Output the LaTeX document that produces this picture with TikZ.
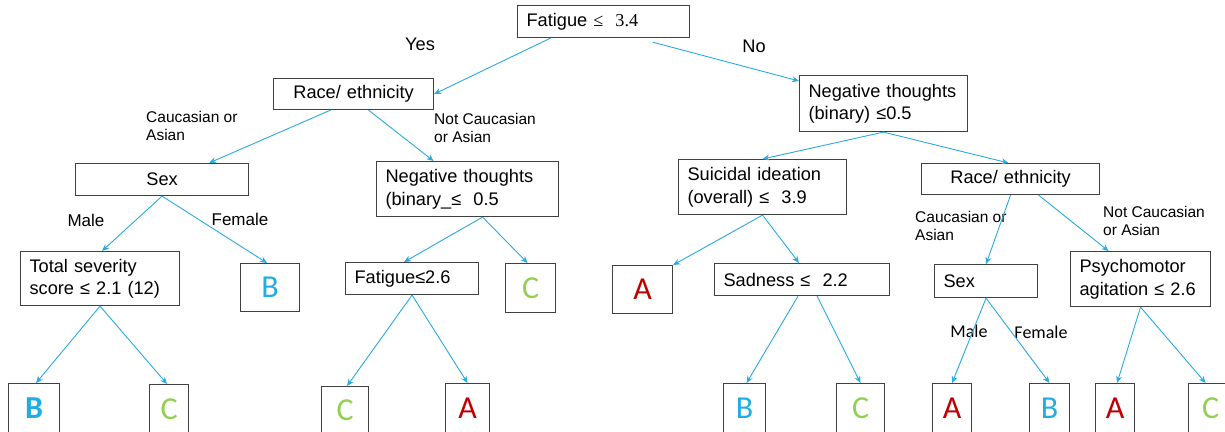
\documentclass[tikz,border=0pt]{standalone}
\usepackage{fontspec}
\setmainfont{Liberation Sans}
\newfontfamily\leaffont{Carlito}
\newfontfamily\seriffont{Liberation Serif}
\usetikzlibrary{positioning,arrows.meta}

\begin{document}
\begin{tikzpicture}[x=1pt,y=-1pt]

      \definecolor{boxgray}{HTML}{404040}
      \definecolor{arrowblue}{HTML}{29ABE2}
      \definecolor{leafred}{HTML}{C00000}
      \definecolor{leafblue}{HTML}{1FADE4}
      \definecolor{leafgreen}{HTML}{92D050}

      \newcommand{\splitfont}[0]{\fontsize{18.2}{22.5}\selectfont}
      \newcommand{\descfont}[0]{\fontsize{15.5}{18.5}\selectfont}
      \newcommand{\lettersize}[0]{\leaffont\fontsize{32}{32}\selectfont}

      \tikzstyle{split}     = [rectangle, draw = boxgray, line width=1.1pt, anchor = north west, inner xsep=9pt, inner ysep=2pt, font=\splitfont]
      \tikzstyle{leaf}      = [rectangle, draw = boxgray, line width=1.1pt, anchor = north west, inner sep=0pt, font=\lettersize]
      \tikzstyle{desc}      = [anchor = north west, inner sep=0pt, align=left, font=\descfont]
      \tikzstyle{connector} = [line width=0.9pt, draw = arrowblue, -{Stealth[length=7pt, width=6pt]}]

      \useasboundingbox (0,0) rectangle (1225,431);

      \node [split, text width=154pt, minimum height=32pt, align=left]   (fatigue)     at (517,5)    {Fatigue {\seriffont ≤\ \ 3.4}};
      \node [split, text width=142pt, minimum height=31pt, align=center] (raceone)     at (273,78)   {Race/ ethnicity};
      \node [split, text width=155pt, minimum height=32pt, align=center] (sexone)      at (75,163)   {Sex};
      \node [split, text width=164pt, minimum height=55pt, align=left]   (negone)      at (376,161)  {Negative thoughts\\(binary\_≤\ \ 0.5};
      \node [split, text width=141pt, minimum height=54pt, align=left]   (severity)    at (20,251)   {Total severity\\score ≤ 2.1 (12)};
      \node [split, text width=115pt, minimum height=32pt, align=left]   (fatiguetwo)  at (345,262)  {Fatigue≤2.6};
      \node [split, text width=150pt, minimum height=56pt, align=left]   (negtwo)      at (799,75)   {Negative thoughts\\(binary) ≤0.5};
      \node [split, text width=150pt, minimum height=55pt, align=left]   (suicidal)    at (678,159)  {Suicidal ideation\\(overall) ≤\ \ 3.9};
      \node [split, text width=160pt, minimum height=31pt, align=center] (racetwo)     at (921,163)  {Race/ ethnicity};
      \node [split, text width=157pt, minimum height=32pt, align=left]   (sadness)     at (714,263)  {Sadness ≤\ \ 2.2};
      \node [split, text width=85pt,  minimum height=33pt, align=left]   (sextwo)      at (934,264)  {Sex};
      \node [split, text width=122pt, minimum height=55pt, align=left]   (psychomotor) at (1070,251) {Psychomotor\\agitation ≤ 2.6};

      \node [leaf, minimum width=59pt, minimum height=48pt, text = leafblue]  (sexoneout)        at (240,263)  {B};
      \node [leaf, minimum width=50pt, minimum height=49pt, text = leafgreen] (negoneout)        at (505,263)  {C};
      \node [leaf, minimum width=60pt, minimum height=48pt, text = leafred]   (suicidalout)      at (612,265)  {A};
      \node [leaf, minimum width=51pt, minimum height=50pt, text = leafblue]  (severityleft)     at (8,383)    {\textbf{B}};
      \node [leaf, minimum width=39pt, minimum height=50pt, text = leafgreen] (severityright)    at (149,384)  {C};
      \node [leaf, minimum width=47pt, minimum height=48pt, text = leafgreen] (fatiguetwoleft)   at (321,386)  {C};
      \node [leaf, minimum width=44pt, minimum height=50pt, text = leafred]   (fatiguetworight)  at (445,383)  {A};
      \node [leaf, minimum width=42pt, minimum height=50pt, text = leafblue]  (sadnessleft)      at (723,383)  {B};
      \node [leaf, minimum width=48pt, minimum height=50pt, text = leafgreen] (sadnessright)     at (836,383)  {C};
      \node [leaf, minimum width=39pt, minimum height=50pt, text = leafred]   (sextwoleft)       at (932,383)  {A};
      \node [leaf, minimum width=40pt, minimum height=50pt, text = leafblue]  (sextworight)      at (1029,383) {B};
      \node [leaf, minimum width=39pt, minimum height=50pt, text = leafred]   (psychomotorleft)  at (1095,383) {A};
      \node [leaf, minimum width=44pt, minimum height=50pt, text = leafgreen] (psychomotorright) at (1188,383) {C};

      \node [font=\splitfont]                     (yesdesc)      at (420,44)   {Yes};
      \node [font=\splitfont]                     (nodesc)       at (754,46)   {No};
      \node [desc]                                (raceonedescl) at (146,111)  {Caucasian or\\Asian};
      \node [desc]                                (raceonedescr) at (434,113)  {Not Caucasian\\or Asian};
      \node [font=\fontsize{17}{20}\selectfont]   (sexonedescl)  at (86,220)   {Male};
      \node [font=\fontsize{17}{20}\selectfont]   (sexonedescr)  at (240,219)  {Female};
      \node [desc]                                (racetwodescl) at (915,211)  {Caucasian or\\Asian};
      \node [desc]                                (racetwodescr) at (1103,206) {Not Caucasian\\or Asian};
      \node [font=\leaffont\fontsize{18}{20}\selectfont] (sextwodescl) at (969,331)  {Male};
      \node [font=\leaffont\fontsize{18}{20}\selectfont] (sextwodescr) at (1041,332) {Female};

      \draw [connector] ([xshift=-53pt]fatigue.south)            -- (raceone.east);
      \draw [connector] ([xshift=49pt, yshift=-4pt]fatigue.south) -- ([yshift=-6pt]negtwo.north west);
      \draw [connector] ([xshift=-23pt]raceone.south)            -- ([xshift=47pt]sexone.north);
      \draw [connector] ([xshift=15pt]raceone.south)             -- ([xshift=-34pt]negone.north);
      \draw [connector] (sexone.south)                           -- ([xshift=2pt]severity.north);
      \draw [connector] (sexone.south)                           -- ([xshift=-3pt]sexoneout.north);
      \draw [connector] ([xshift=15pt]negone.south)              -- ([xshift=-8pt]fatiguetwo.north);
      \draw [connector] ([xshift=15pt]negone.south)              -- ([xshift=-3pt]negoneout.north);
      \draw [connector] (severity.south)                         -- ([xshift=2pt]severityleft.north);
      \draw [connector] (severity.south)                         -- ([xshift=-2pt]severityright.north);
      \draw [connector] (fatiguetwo.south)                       -- ([xshift=2pt]fatiguetwoleft.north);
      \draw [connector] (fatiguetwo.south)                       -- (fatiguetworight.north);
      \draw [connector] (negtwo.south)                           -- (suicidal.north);
      \draw [connector] (negtwo.south)                           -- ([xshift=-2pt]racetwo.north);
      \draw [connector] (suicidal.south)                         -- (suicidalout.north east);
      \draw [connector] (suicidal.south)                         -- ([xshift=-3pt]sadness.north);
      \draw [connector] (racetwo.south)                          -- (sextwo.north);
      \draw [connector] ([xshift=28pt]racetwo.south)             -- ([xshift=-32pt]psychomotor.north);
      \draw [connector] ([xshift=-4pt]sadness.south)             -- ([xshift=2pt]sadnessleft.north);
      \draw [connector] ([xshift=15pt]sadness.south)             -- (sadnessright.north);
      \draw [connector] (sextwo.south)                           -- (sextwoleft.north);
      \draw [connector] (sextwo.south)                           -- (sextworight.north);
      \draw [connector] (psychomotor.south)                      -- ([xshift=2pt]psychomotorleft.north);
      \draw [connector] (psychomotor.south)                      -- ([xshift=-5pt]psychomotorright.north);

    \end{tikzpicture}
\end{document}
